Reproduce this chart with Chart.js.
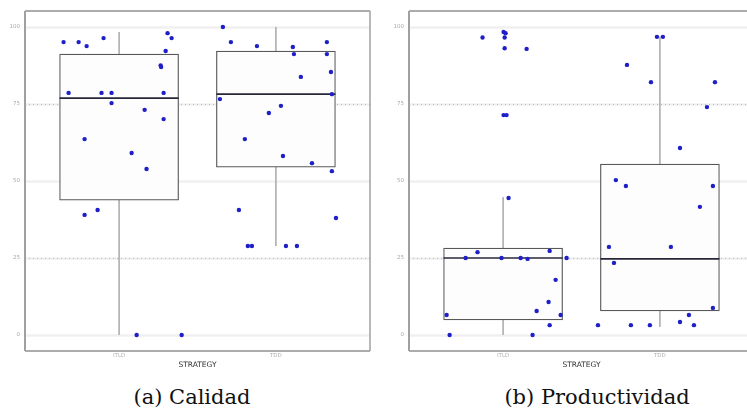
<!DOCTYPE html>
<html>
<head>
<meta charset="utf-8">
<script src="https://cdn.jsdelivr.net/npm/chart.js@4.4.0/dist/chart.umd.min.js"></script>
<style>
  body { margin: 0; width: 747px; height: 410px; overflow: hidden; background: #fff; position: relative; }
  .panel { position: absolute; top: 0; }
  .caption { position: absolute; top: 383px; height: 28px; line-height: 28px; font-family: "DejaVu Serif", serif; font-size: 21px; color: #111; text-align: center; white-space: nowrap; }
</style>
</head>
<body>
<canvas id="calidad" class="panel" width="375" height="372" style="left:0px"></canvas>
<canvas id="productividad" class="panel" width="375" height="372" style="left:384px"></canvas>
<div class="caption" style="left:92px;width:200px">(a) Calidad</div>
<div class="caption" style="left:497px;width:200px">(b) Productividad</div>
<script>
// categories and axis ticks
const strategies = ["ITLD", "TDD"];
const yTicks = [0, 25, 50, 75, 100];

// box stats per strategy: [lower whisker, q1, median, q3, upper whisker]
const calidadStats = [
  [0, 43.8, 76.9, 91.2, 98.4],
  [28.9, 54.5, 78.2, 92.2, 100]
];
const productividadStats = [
  [0, 4.9, 25, 28.2, 44.8],
  [2.6, 7.8, 24.7, 55.5, 96.8]
];

// observed values (points) and their horizontal jitter around the category
const calidadITLD = [95.1, 95.1, 93.8, 96.4, 98.0, 96.4, 92.2, 87.5, 87.0, 78.6, 78.6, 78.6, 78.6, 75.3, 73.1, 70.1, 63.6, 59.1, 53.9, 39.0, 40.6, 0, 0];
const calidadITLDJitter = [-0.354, -0.258, -0.207, -0.099, 0.309, 0.335, 0.297, 0.265, 0.268, -0.322, -0.112, -0.048, 0.284, -0.048, 0.163, 0.284, -0.22, 0.08, 0.175, -0.22, -0.137, 0.112, 0.399];
const calidadTDD = [100, 95.1, 93.8, 93.5, 91.2, 95.1, 91.2, 85.4, 83.8, 78.2, 76.6, 74.4, 72.1, 63.6, 58.1, 55.8, 53.2, 40.6, 38.0, 28.9, 28.9, 28.9, 28.9];
const calidadTDDJitter = [-0.338, -0.287, -0.121, 0.108, 0.115, 0.325, 0.325, 0.351, 0.159, 0.357, -0.357, 0.032, -0.045, -0.198, 0.045, 0.23, 0.357, -0.236, 0.383, -0.179, -0.153, 0.064, 0.134];

const productividadITLD = [96.6, 98.4, 98.0, 96.6, 93.1, 92.9, 71.4, 71.4, 44.5, 26.9, 27.3, 25, 25, 25, 24.7, 25, 17.9, 10.7, 7.8, 6.5, 6.5, 3.2, 0, 0];
const productividadITLDJitter = [-0.131, 0.003, 0.016, 0.01, 0.01, 0.15, 0.003, 0.022, 0.035, -0.163, 0.297, -0.239, -0.01, 0.112, 0.156, 0.405, 0.335, 0.29, 0.214, -0.36, 0.367, 0.297, -0.341, 0.188];
const productividadTDD = [96.8, 96.8, 87.7, 82.1, 82.1, 74.0, 60.7, 50.3, 48.4, 48.4, 41.6, 28.6, 28.6, 23.4, 8.8, 6.5, 4.2, 3.2, 3.2, 3.2, 3.2];
const productividadTDDJitter = [-0.019, 0.019, -0.21, -0.057, 0.351, 0.3, 0.128, -0.281, -0.217, 0.338, 0.255, -0.325, 0.07, -0.293, 0.338, 0.185, 0.128, 0.217, -0.395, -0.185, -0.064];

const toPoints = (values, jitter, cat) => values.map((v, i) => ({ x: cat + jitter[i], y: v }));

function hline(ctx, x0, x1, y) {
  ctx.beginPath();
  ctx.moveTo(x0, y);
  ctx.lineTo(x1, y);
  ctx.stroke();
}
function vline(ctx, x, y0, y1) {
  ctx.beginPath();
  ctx.moveTo(x, y0);
  ctx.lineTo(x, y1);
  ctx.stroke();
}

// guides, whiskers, medians and frame, all placed with the chart scales
const boxExtras = {
  id: "boxExtras",
  beforeDatasetsDraw(chart, args, opts) {
    const { ctx, chartArea: a, scales: { x, y } } = chart;
    ctx.save();
    yTicks.forEach((v) => {
      const py = Math.round(y.getPixelForValue(v)) + 0.5;
      ctx.strokeStyle = "#f0f0f0";
      ctx.lineWidth = 2.5;
      ctx.setLineDash([]);
      hline(ctx, a.left, a.right, py);
      if (v === 25 || v === 75) {
        ctx.strokeStyle = "#b8b8b8";
        ctx.lineWidth = 1;
        ctx.setLineDash([1, 3]);
        hline(ctx, a.left, a.right, py);
      }
    });
    ctx.setLineDash([]);
    ctx.strokeStyle = "#a8a8a8";
    ctx.lineWidth = 1.5;
    opts.stats.forEach((s, i) => {
      const px = x.getPixelForValue(i);
      vline(ctx, px, y.getPixelForValue(s[0]), y.getPixelForValue(s[4]));
    });
    ctx.restore();
  },
  afterDatasetDraw(chart, args, opts) {
    if (args.meta.type !== "bar") return;
    const { ctx, scales: { x, y } } = chart;
    const half = opts.boxPx / 2;
    ctx.save();
    ctx.strokeStyle = "#262638";
    ctx.lineWidth = 1.6;
    opts.stats.forEach((s, i) => {
      const px = x.getPixelForValue(i);
      hline(ctx, px - half, px + half, y.getPixelForValue(s[2]));
    });
    ctx.restore();
  },
  afterDraw(chart) {
    const { ctx, chartArea: a } = chart;
    ctx.save();
    ctx.strokeStyle = "#5a5a5a";
    ctx.lineWidth = 1.2;
    hline(ctx, a.left, a.right, a.top);
    hline(ctx, a.left, a.right, a.bottom);
    ctx.strokeStyle = "#a0a0a0";
    ctx.lineWidth = 2;
    vline(ctx, a.left, a.top, a.bottom);
    ctx.lineWidth = 1.5;
    vline(ctx, a.right, a.top, a.bottom);
    ctx.restore();
  },
};

function makePanel(id, stats, itld, itldJitter, tdd, tddJitter) {
  const boxPx = 119;
  return new Chart(document.getElementById(id).getContext("2d"), {
    data: {
      datasets: [
        {
          type: "bar",
          order: 2,
          data: stats.map((s, i) => ({ x: i, y: [s[1], s[3]] })),
          backgroundColor: "#fdfdfd",
          borderColor: "#585858",
          borderWidth: 1.2,
          borderSkipped: false,
          barThickness: boxPx,
          grouped: false,
        },
        {
          type: "scatter",
          order: 1,
          data: toPoints(itld, itldJitter, 0).concat(toPoints(tdd, tddJitter, 1)),
          backgroundColor: "#1f1fc8",
          borderWidth: 0,
          pointRadius: 2.2,
        },
      ],
    },
    options: {
      responsive: false,
      animation: false,
      layout: { padding: { top: 11, right: 5, left: 0, bottom: 0 } },
      plugins: {
        legend: { display: false },
        tooltip: { enabled: false },
        boxExtras: { stats: stats, boxPx: boxPx },
      },
      scales: {
        x: {
          type: "linear",
          min: -0.6,
          max: 1.6,
          offset: false,
          grid: { display: false, offset: false, drawTicks: false, tickLength: 0 },
          border: { display: false },
          afterBuildTicks: (scale) => {
            scale.ticks = [{ value: 0 }, { value: 1 }];
          },
          afterFit: (scale) => {
            scale.height = 21;
          },
          ticks: {
            padding: 1,
            font: { family: "DejaVu Sans", size: 5.5 },
            color: "#b0b0b0",
            maxRotation: 0,
            callback: (v) => strategies[v],
          },
          title: {
            display: true,
            text: "STRATEGY",
            font: { family: "DejaVu Sans", size: 7.5 },
            color: "#333",
            padding: { top: 0, bottom: 2 },
          },
        },
        y: {
          type: "linear",
          min: -5.2,
          max: 105.2,
          grid: { display: false, drawTicks: false, tickLength: 0 },
          border: { display: false },
          afterBuildTicks: (scale) => {
            scale.ticks = yTicks.map((v) => ({ value: v }));
          },
          afterFit: (scale) => {
            scale.width = 25;
          },
          ticks: {
            padding: 5,
            font: { family: "DejaVu Sans", size: 5.5 },
            color: "#a8a8a8",
          },
        },
      },
    },
    plugins: [boxExtras],
  });
}

makePanel("calidad", calidadStats, calidadITLD, calidadITLDJitter, calidadTDD, calidadTDDJitter);
makePanel("productividad", productividadStats, productividadITLD, productividadITLDJitter, productividadTDD, productividadTDDJitter);
</script>
</body>
</html>
